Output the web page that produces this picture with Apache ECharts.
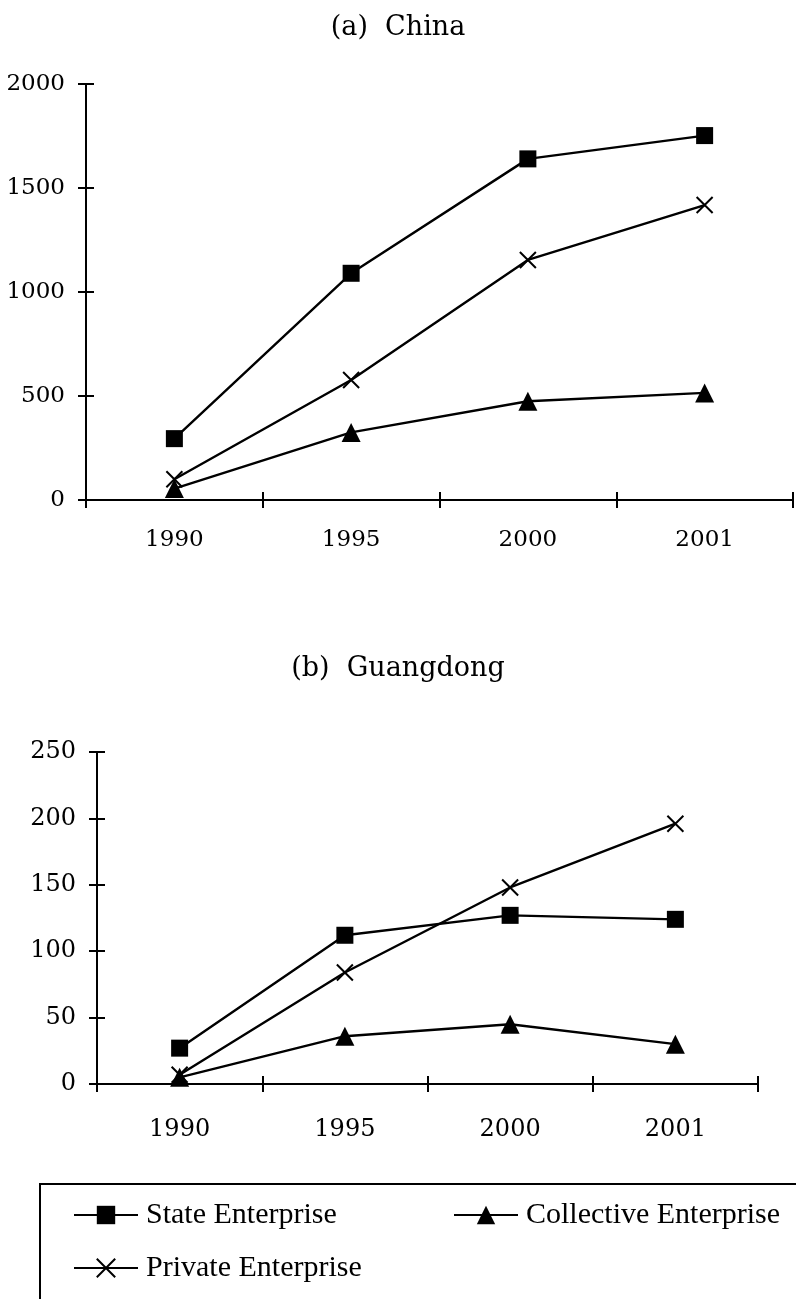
<!DOCTYPE html>
<html>
<head>
<meta charset="utf-8">
<script src="https://cdn.jsdelivr.net/npm/echarts@6/dist/echarts.min.js"></script>
<style>
html,body{margin:0;padding:0;background:#fff;}
#c{width:796px;height:1299px;}
</style>
</head>
<body>
<div id="c"></div>
<script>
// ---- data ----
const years = ['1990', '1995', '2000', '2001'];
const seriesNames = ['State Enterprise', 'Collective Enterprise', 'Private Enterprise'];
const chinaState = [295, 1090, 1640, 1752];
const chinaCollective = [55, 325, 475, 515];
const chinaPrivate = [100, 577, 1154, 1418];
const gdState = [27, 112, 127, 124];
const gdCollective = [5, 36, 45, 30];
const gdPrivate = [7, 84, 148, 196];
const titles = ['(a)  China', '(b)  Guangdong'];
const chinaTicks = {min: 0, max: 2000, interval: 500};
const gdTicks = {min: 0, max: 250, interval: 50};

// ---- styling ----
const INK = '#000';
const serifTick = 'DejaVu Serif';
const crossPath = 'path://M0,0L10,10M0,10L10,0';

const symbolFor = {
  'State Enterprise': {symbol: 'rect', symbolSize: 17, itemStyle: {color: INK}},
  'Collective Enterprise': {symbol: 'triangle', symbolSize: 19, itemStyle: {color: INK}},
  'Private Enterprise': {symbol: crossPath, symbolSize: 16, itemStyle: {color: 'none', borderColor: INK, borderWidth: 2}}
};

function mkSeries(name, data, gi) {
  const s = symbolFor[name];
  return {
    type: 'line', name: name, data: data,
    xAxisIndex: gi * 2, yAxisIndex: gi * 2,
    symbol: s.symbol, symbolSize: s.symbolSize,
    itemStyle: s.itemStyle,
    lineStyle: {color: INK, width: 2.4},
    showAllSymbol: true,
    emphasis: {disabled: true},
    z: 3
  };
}

function mkX(gi, fs, margin, inside) {
  return {
    type: 'category', gridIndex: gi, data: years, boundaryGap: true,
    position: 'bottom',
    axisLine: {show: !inside, lineStyle: {color: INK, width: 2}},
    axisTick: {show: true, inside: inside, length: 8, lineStyle: {color: INK, width: 2}},
    axisLabel: {show: !inside, color: INK, fontFamily: serifTick, fontSize: fs, margin: margin},
    splitLine: {show: false}
  };
}
function mkY(gi, t, fs, inside) {
  return {
    type: 'value', gridIndex: gi, min: t.min, max: t.max, interval: t.interval,
    position: 'left',
    axisLine: {show: !inside, lineStyle: {color: INK, width: 2}},
    axisTick: {show: true, inside: inside, length: 8, lineStyle: {color: INK, width: 2}},
    axisLabel: {show: !inside, color: INK, fontFamily: serifTick, fontSize: fs, margin: 21,
                formatter: function (v) { return String(v); }},
    splitLine: {show: false}
  };
}

const legendText = {color: INK, fontFamily: 'Liberation Serif', fontSize: 30, padding: [0, 0, 0, 3]};
function mkLegend(name, left, top) {
  return {
    data: [name], left: left, top: top, padding: 0,
    itemWidth: 64, itemHeight: 23,
    textStyle: legendText,
    selectedMode: false
  };
}

const option = {
  animation: false,
  backgroundColor: '#fff',
  title: [
    {text: titles[0], left: 'center', top: 14, padding: 0,
     textStyle: {color: INK, fontFamily: 'DejaVu Serif', fontWeight: 'normal', fontSize: 27}},
    {text: titles[1], left: 'center', top: 655, padding: 0,
     textStyle: {color: INK, fontFamily: 'DejaVu Serif', fontWeight: 'normal', fontSize: 27}}
  ],
  grid: [
    {left: 86, top: 84, width: 707, height: 416, containLabel: false},
    {left: 97, top: 752, width: 661, height: 332, containLabel: false}
  ],
  xAxis: [mkX(0, 23, 29, false), mkX(0, 23, 29, true), mkX(1, 24, 34, false), mkX(1, 24, 34, true)],
  yAxis: [mkY(0, chinaTicks, 23, false), mkY(0, chinaTicks, 23, true), mkY(1, gdTicks, 24, false), mkY(1, gdTicks, 24, true)],
  legend: [
    mkLegend(seriesNames[0], 73, 1200),
    mkLegend(seriesNames[1], 453, 1200),
    mkLegend(seriesNames[2], 73, 1253)
  ],
  graphic: [
    {type: 'rect', shape: {x: 40, y: 1184, width: 800, height: 200},
     style: {fill: 'none', stroke: INK, lineWidth: 2}, z: 0, silent: true}
  ],
  series: [
    mkSeries(seriesNames[0], chinaState, 0),
    mkSeries(seriesNames[1], chinaCollective, 0),
    mkSeries(seriesNames[2], chinaPrivate, 0),
    mkSeries(seriesNames[0], gdState, 1),
    mkSeries(seriesNames[1], gdCollective, 1),
    mkSeries(seriesNames[2], gdPrivate, 1)
  ]
};

const chart = echarts.init(document.getElementById('c'), null, {renderer: 'canvas'});
chart.setOption(option);
</script>
</body>
</html>
